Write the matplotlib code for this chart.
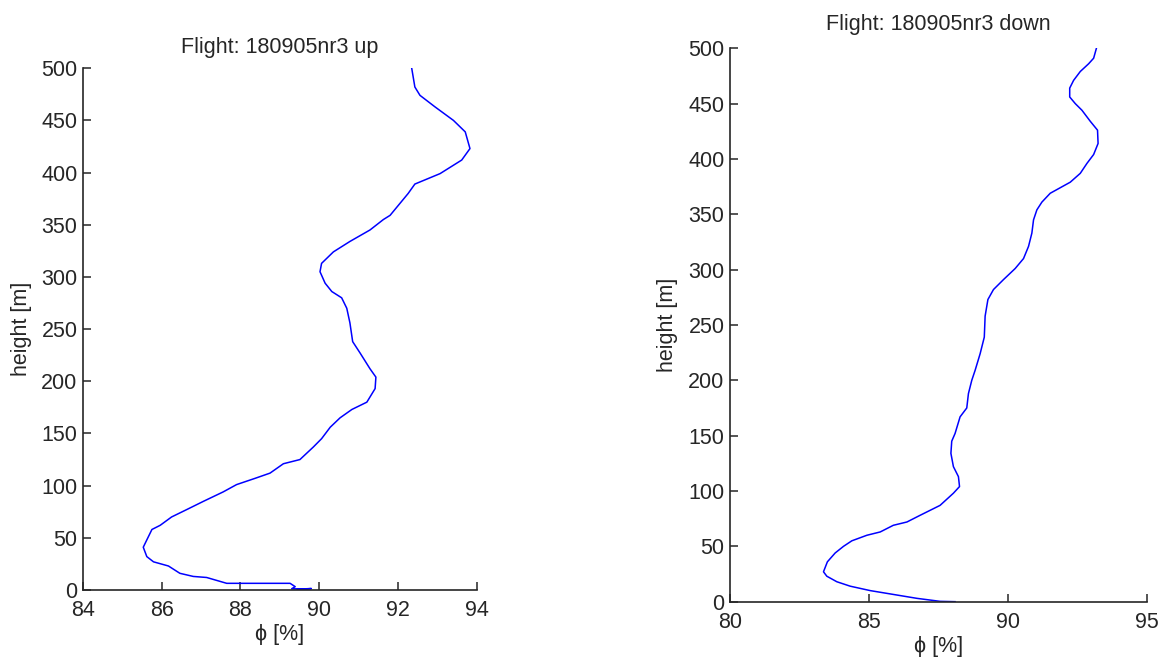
"""
Humidity profiles for flight 180905nr3, ascent and descent.
"""

import matplotlib
matplotlib.use("Agg")
import matplotlib.pyplot as plt


# ascent profile (phi [%], height [m])
phi_up = [
    92.35, 92.43, 92.56, 92.94, 93.41, 93.71, 93.83, 93.62, 93.07, 92.43,
    92.26, 91.80, 91.63, 91.29, 90.78, 90.36, 90.06, 90.02, 90.15, 90.32,
    90.57, 90.70, 90.78, 90.85, 91.04, 91.29, 91.44, 91.42, 91.21, 90.83,
    90.53, 90.28, 90.06, 89.85, 89.51, 89.09, 88.75, 88.37, 87.90, 87.56,
    87.06, 86.63, 86.25, 85.96, 85.75, 85.62, 85.53, 85.62, 85.79, 86.17,
    86.46, 86.80, 87.14, 87.65, 89.26, 89.39, 89.30, 89.55, 89.80, 89.45,
]
height_up = [
    500, 482, 474, 463, 450, 439, 423, 412, 399, 389,
    380, 359, 355, 345, 334, 324, 313, 305, 294, 286,
    280, 270, 256, 238, 227, 212, 204, 193, 180, 173,
    165, 156, 145, 137, 125, 121, 112, 107, 101, 94,
    85, 77, 70, 62, 58, 48, 41, 32, 27, 23,
    16, 13, 12, 6.4, 6.4, 3.2, 1.2, 1.0, 1.4, 0.5,
]

# descent profile (phi [%], height [m])
phi_down = [
    93.17, 93.07, 92.89, 92.59, 92.35, 92.21, 92.21, 92.41, 92.65, 92.95,
    93.21, 93.23, 93.07, 92.83, 92.59, 92.23, 91.87, 91.51, 91.21, 91.03,
    90.91, 90.85, 90.73, 90.55, 90.25, 89.83, 89.47, 89.27, 89.17, 89.14,
    88.99, 88.81, 88.69, 88.57, 88.51, 88.27, 88.09, 87.97, 87.94, 88.03,
    88.21, 88.25, 88.03, 87.55, 86.83, 86.36, 85.87, 85.40, 84.92, 84.38,
    84.08, 83.78, 83.50, 83.36, 83.48, 83.84, 84.32, 85.04, 85.76, 86.72,
    87.55, 88.09,
]
height_down = [
    500, 491, 486, 479, 471, 464, 456, 450, 444, 434,
    426, 414, 404, 396, 387, 379, 374, 369, 361, 354,
    345, 333, 321, 310, 301, 291, 282, 273, 258, 239,
    224, 209, 200, 188, 175, 167, 152, 145, 134, 122,
    113, 104, 98, 87, 78, 72, 69, 63, 60, 55,
    50, 44, 36, 27, 23, 18, 14, 10, 7, 3,
    0.3, 0,
]

x_ticks_up = [84, 86, 88, 90, 92, 94]
x_ticks_down = [80, 85, 90, 95]
y_ticks = list(range(0, 501, 50))

FS = 15.5
INK = "#262626"

plt.rcParams["font.family"] = ["Liberation Sans", "DejaVu Sans"]
plt.rcParams["font.size"] = FS


def style_axes(ax, xticks):
    for side in ("top", "right"):
        ax.spines[side].set_visible(False)
    for side in ("left", "bottom"):
        ax.spines[side].set_color(INK)
        ax.spines[side].set_linewidth(1.2)
    ax.tick_params(direction="in", length=6, width=1.1, colors=INK,
                   labelcolor=INK, labelsize=FS)
    ax.tick_params(axis="x", pad=7.5)
    ax.tick_params(axis="y", pad=4)
    ax.set_xticks(xticks)
    ax.set_yticks(y_ticks)
    ax.set_xlim(xticks[0], xticks[-1])
    ax.set_ylim(0, 500)
    ax.set_xlabel("\u03d5 [%]", fontsize=FS, color=INK, labelpad=2)
    ax.set_ylabel("height [m]", fontsize=FS, color=INK, labelpad=7)


fig = plt.figure(figsize=(11.68, 6.63), dpi=100)

ax1 = fig.add_axes([0.0711, 0.1101, 0.337, 0.787])
ax1.plot(phi_up, height_up, color="#0000ff", linewidth=1.1)
style_axes(ax1, x_ticks_up)
ax1.set_title("Flight: 180905nr3 up", fontsize=FS, color=INK, pad=11)

ax2 = fig.add_axes([0.625, 0.0925, 0.3573, 0.8347])
ax2.plot(phi_down, height_down, color="#0000ff", linewidth=1.1)
style_axes(ax2, x_ticks_down)
ax2.set_title("Flight: 180905nr3 down", fontsize=FS, color=INK, pad=13)

fig.savefig("out.png", dpi=100)
